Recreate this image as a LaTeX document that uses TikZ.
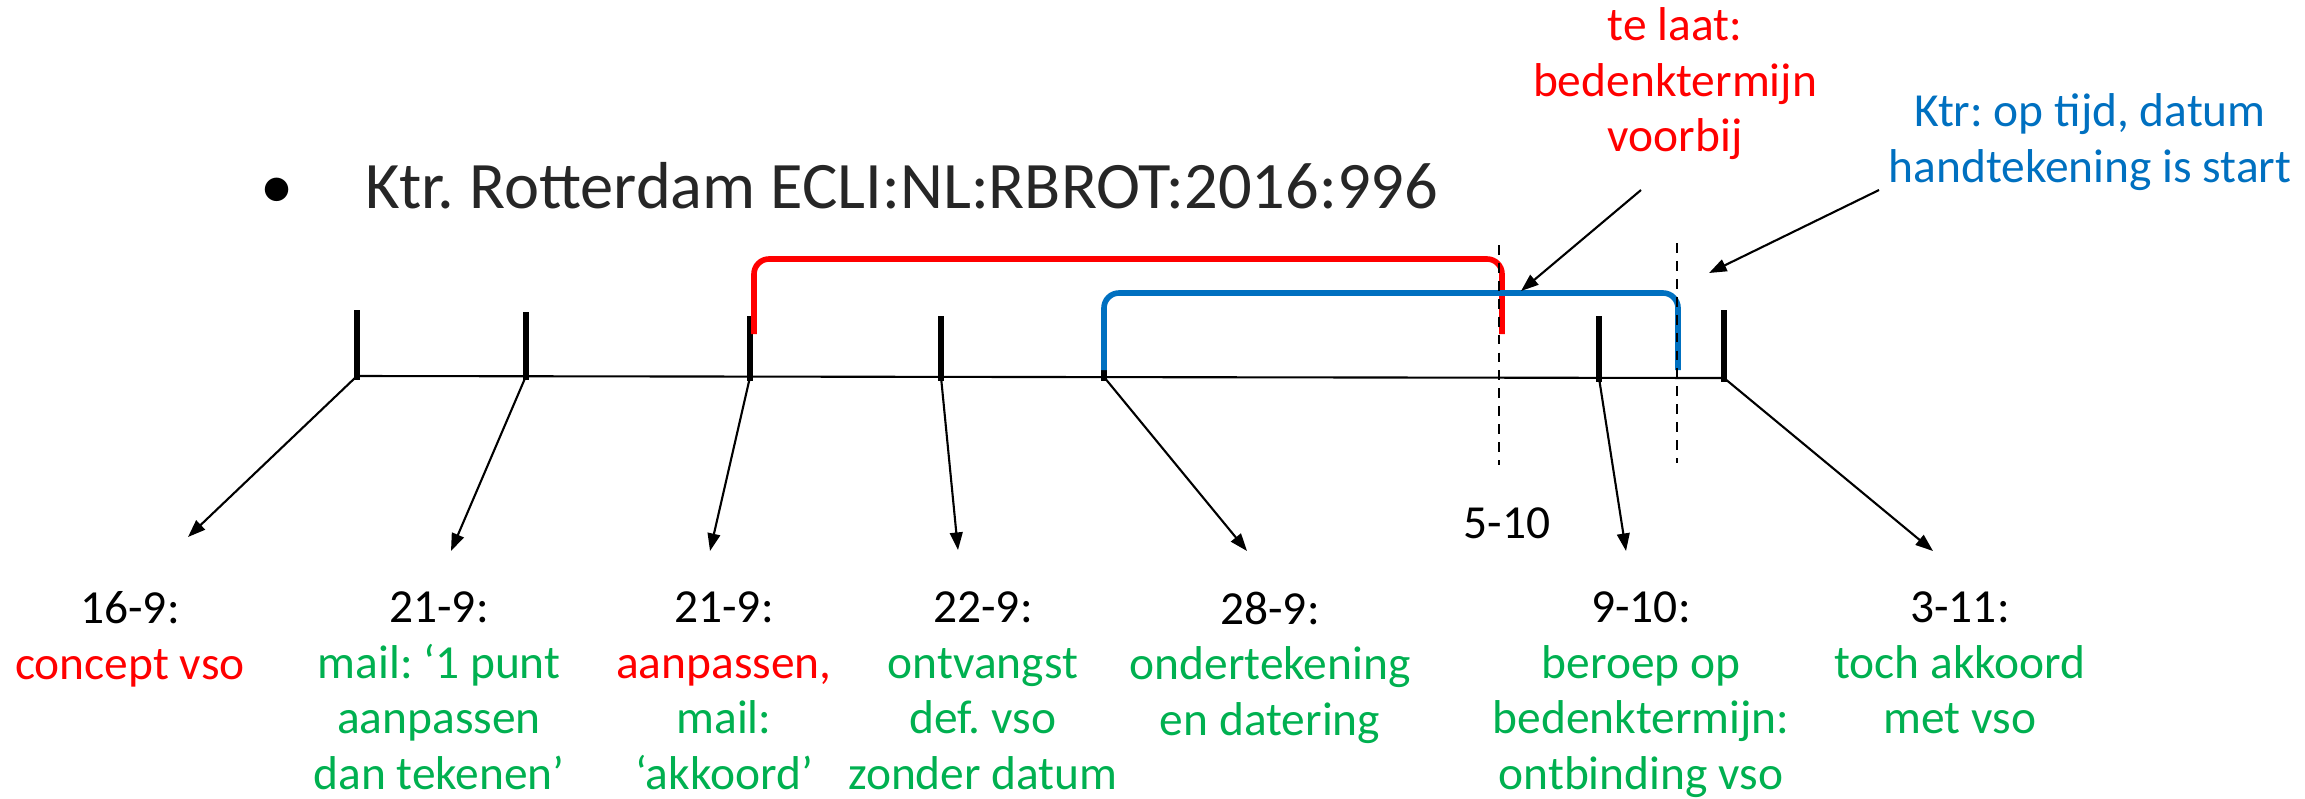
\documentclass[tikz,border=0pt]{standalone}
\usepackage{fontspec}
\setmainfont{Carlito}
\usetikzlibrary{arrows.meta}
\frenchspacing

\definecolor{vsored}{RGB}{255,0,0}
\definecolor{vsogreen}{RGB}{0,176,80}
\definecolor{vsoblue}{RGB}{0,112,192}

\begin{document}
\begin{tikzpicture}[x=0.1mm, y=-0.1mm,
		event/.style={anchor=north, inner sep=0pt, align=center, text=vsogreen, font=\fontsize{13.5}{15.8}\selectfont},
		pointer/.style={-{Triangle[length=5pt,width=3.6pt]}, line width=0.6pt},
		bracket/.style={line width=1.6pt, rounded corners=1.5mm},
		marker/.style={dash pattern=on 2.8pt off 2.3pt, line width=0.45pt}]
			\useasboundingbox (0,0) rectangle (2305,798);
			
			\node[anchor=base, inner sep=0pt, font=\fontsize{18.9}{22}\selectfont] (bullet) at (277,208) {•};
			\node[anchor=base west, inner sep=0pt, text=black!85, font=\fontsize{18.9}{22}\selectfont] (title) at (365,208) {Ktr. Rotterdam ECLI:NL:RBROT:2016:996};
			
			\foreach \n/\x/\y/\t in {1/357/376/310, 2/526/376/312, 3/750/377/316, 4/941/377/316, 5/1104/377/313, 6/1599/378/316, 7/1724/378/310}{
				\coordinate (t\n) at (\x,\y);
				\draw[line width=1.5pt] (\x,\t) -- (\x,\y+4);
			}
			\draw[line width=0.6pt] (t1) -- (t7);
			
			\draw[bracket, vsored] (754,334) -- (754,259) -- (1502,259) -- (1502,334);
			\draw[bracket, vsoblue] (1104,370) -- (1104,293) -- (1678,293) -- (1678,370);
			\draw[marker] (1499,245) -- (1499,465);
			\draw[marker] (1677,243) -- (1677,463);
			
			\foreach \n/\x/\y in {1/188/537, 2/451/551, 3/710/551, 4/958/550, 5/1247/551, 6/1626/551, 7/1933/551}{
				\coordinate (p\n) at (\x,\y);
				\draw[pointer] (t\n) -- (p\n);
			}
			
			\node[event] (e1) at (130,591) {\textcolor{black}{16-9:}\\\textcolor{vsored}{concept vso}};
			\node[event] (e2) at (439,591) {\textcolor{black}{21-9:}\\mail: ‘1 punt\\aanpassen\\dan tekenen’};
			\node[event] (e3) at (724,591) {\textcolor{black}{21-9:}\\\textcolor{vsored}{aanpassen,}\\mail:\\‘akkoord’};
			\node[event] (e4) at (983,591) {\textcolor{black}{22-9:}\\ontvangst\\def. vso\\zonder datum};
			\node[event] (e5) at (1270,591) {\textcolor{black}{28-9:}\\ondertekening\\en datering};
			\node[event] (e6) at (1641,591) {\textcolor{black}{9-10:}\\beroep op\\bedenktermijn:\\ontbinding vso};
			\node[event] (e7) at (1960,591) {\textcolor{black}{3-11:}\\toch akkoord\\met vso};
			\node[event, text=black] (fiveten) at (1507,507) {5-10};
			
			\node[event, text=vsored] (late) at (1675,7) {te laat:\\bedenktermijn\\voorbij};
			\node[event, text=vsoblue] (intime) at (2090,93) {Ktr: op tijd, datum\\handtekening is start};
			\coordinate (latefrom) at (1641,190);
			\coordinate (lateto) at (1521,291);
			\coordinate (timefrom) at (1879,190);
			\coordinate (timeto) at (1709,273);
			\draw[pointer] (latefrom) -- (lateto);
			\draw[pointer] (timefrom) -- (timeto);
		\end{tikzpicture}
\end{document}
